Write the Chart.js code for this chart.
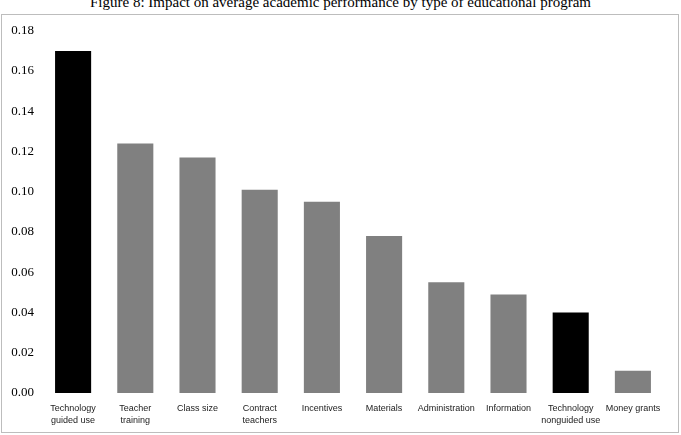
<!DOCTYPE html>
<html>
<head>
<meta charset="utf-8">
<script src="https://cdn.jsdelivr.net/npm/chart.js@4.4.1/dist/chart.umd.min.js"></script>
<style>
  body { margin: 0; width: 681px; height: 435px; overflow: hidden; background: #fff; position: relative; }
  #title { position: absolute; left: 0; top: -7px; width: 681px; text-align: center;
           font: 15px "Liberation Serif", "Times New Roman", serif; color: #000; line-height: 18px; white-space: nowrap; }
  #box { position: absolute; left: 1px; top: 14px; width: 676px; height: 417px; border: 1px solid #bdbdbd; }
  #chart { position: absolute; left: 0; top: 0; width: 676px; height: 417px; }
</style>
</head>
<body>
<div id="title">Figure 8: Impact on average academic performance by type of educational program</div>
<div id="box"><div id="chart"></div></div>
<script>
const categories = [
  ['Technology', 'guided use'],
  ['Teacher', 'training'],
  'Class size',
  ['Contract', 'teachers'],
  'Incentives',
  'Materials',
  'Administration',
  'Information',
  ['Technology', 'nonguided use'],
  'Money grants'
];
const impact = [0.170, 0.124, 0.117, 0.101, 0.095, 0.078, 0.055, 0.049, 0.040, 0.011];
const barColors = ['#000000', '#808080', '#808080', '#808080', '#808080', '#808080', '#808080', '#808080', '#000000', '#808080'];
const yTicks = [0, 0.02, 0.04, 0.06, 0.08, 0.10, 0.12, 0.14, 0.16, 0.18];

const ctx = document.createElement('canvas');
document.getElementById('chart').appendChild(ctx);

const myChart = new Chart(ctx, {
  type: 'bar',
  data: {
    labels: categories,
    datasets: [{
      data: impact,
      backgroundColor: barColors,
      borderWidth: 0,
      barPercentage: 0.58,
      categoryPercentage: 1
    }]
  },
  options: {
    responsive: true,
    maintainAspectRatio: false,
    animation: false,
    layout: { padding: { top: 14, right: 14, left: 0, bottom: 0 } },
    plugins: { legend: { display: false }, tooltip: { enabled: false } },
    scales: {
      y: {
        min: 0,
        max: 0.18,
        afterBuildTicks: s => { s.ticks = yTicks.map(v => ({ value: v })); },
        afterFit: s => { s.width = 40; },
        grid: { display: false, drawTicks: false },
        border: { display: false },
        ticks: {
          padding: 8,
          color: '#000',
          font: { family: '"Liberation Serif", "Times New Roman", serif', size: 13 },
          callback: v => Number(v).toFixed(2)
        }
      },
      x: {
        afterFit: s => { s.height = 39; },
        grid: { display: false, drawTicks: false },
        border: { display: false },
        ticks: {
          padding: 9,
          maxRotation: 0,
          autoSkip: false,
          color: '#222',
          font: { family: '"Liberation Sans", Arial, sans-serif', size: 9, lineHeight: 1.4 }
        }
      }
    }
  }
});
</script>
</body>
</html>
